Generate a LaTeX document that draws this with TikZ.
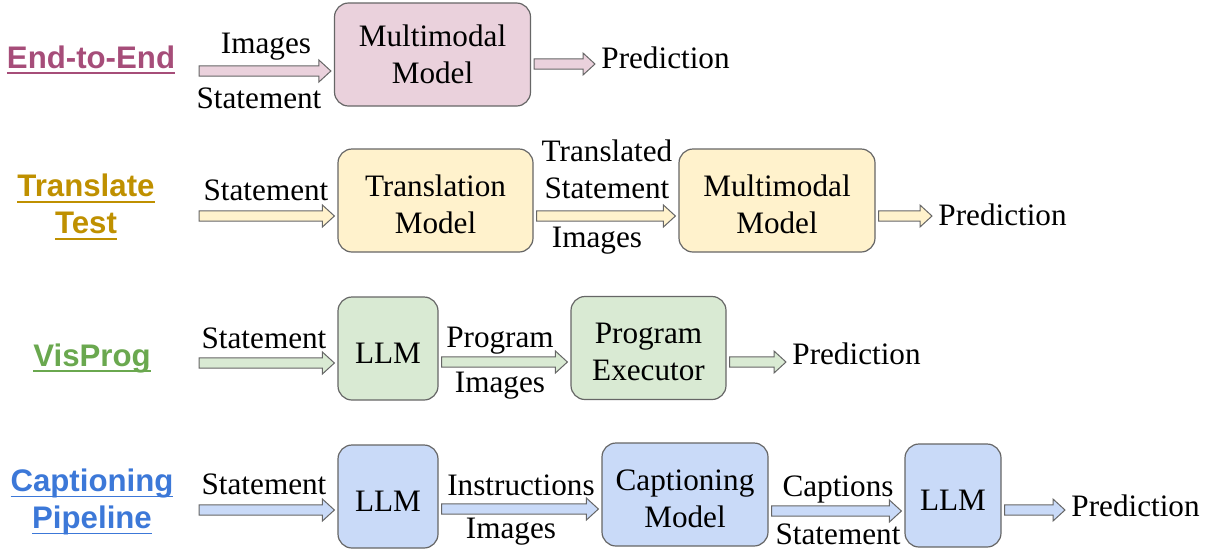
\documentclass[tikz,border=0pt]{standalone}
\usepackage{fontspec}
\setmainfont{Liberation Serif}
\newfontfamily\labelfont{Liberation Sans}
\usetikzlibrary{calc}
\definecolor{pinkfill}{HTML}{EAD1DC}
\definecolor{pinktext}{HTML}{A64D79}
\definecolor{yellowfill}{HTML}{FFF2CC}
\definecolor{yellowtext}{HTML}{BF9000}
\definecolor{greenfill}{HTML}{D9EAD3}
\definecolor{greentext}{HTML}{6AA84F}
\definecolor{bluefill}{HTML}{C9DAF8}
\definecolor{bluetext}{HTML}{3C78D8}
\definecolor{edgegray}{HTML}{666666}
\newcommand\figfont{\fontsize{15.6}{18.5}\selectfont}
\newcommand\rowul[1]{\setbox0\hbox{#1}\leavevmode\rlap{\rule[-2.9pt]{\wd0}{0.9pt}}\box0}
\tikzset{box/.style={draw=edgegray,line width=0.6pt,rounded corners=7pt,minimum height=51.5pt,align=center,inner sep=0pt,font=\figfont}}
\tikzset{lowtext/.style={text height=14.5pt}}
\tikzset{lowtwo/.style={text height=33pt}}
\tikzset{txt/.style={font=\figfont,inner sep=0pt,anchor=base}}
\tikzset{pred/.style={font=\figfont,inner sep=0pt,inner xsep=1.5pt,anchor=base west}}
\tikzset{rowlabel/.style={font=\labelfont\bfseries\figfont,align=center,inner sep=0pt}}
\tikzset{blockarrow/.style={draw=edgegray,line width=0.5pt,
    to path={let \p1=(\tikztostart), \p2=(\tikztotarget) in
      (\x1+1.5pt,\y1+2.6pt) -- (\x2-7.5pt,\y1+2.6pt) -- (\x2-7.5pt,\y1+5.5pt)
      -- (\x2-1.5pt,\y1) -- (\x2-7.5pt,\y1-5.5pt) -- (\x2-7.5pt,\y1-2.6pt)
      -- (\x1+1.5pt,\y1-2.6pt) -- cycle}}}

\begin{document}
\begin{tikzpicture}[x=0.5pt,y=-0.5pt]
    \useasboundingbox (0,0) rectangle (1210,548);

    % end-to-end
    \node[rowlabel, text=pinktext] (e2e) at (91,60) {\rowul{End-to-End}};
    \coordinate (in1) at (196,71);
    \node[box, fill=pinkfill, minimum width=98pt] (mm1) at (432.5,54.5) {Multimodal\\Model};
    \node[txt] (img1) at (266,53) {Images};
    \node[txt] (st1) at (259,108) {Statement};
    \node[pred] (pred1) at (598,68) {Prediction};
    \draw[blockarrow, fill=pinkfill] (in1) to (mm1.west);
    \draw[blockarrow, fill=pinkfill] ([yshift=-4.75pt]mm1.east) to (pred1.west);

    % translate test
    \node[rowlabel, text=yellowtext] (tt) at (86,207) {\rowul{Translate}\\\rowul{Test}};
    \coordinate (in2) at (196,216);
    \node[box, lowtwo, fill=yellowfill, minimum width=97.5pt] (tm2) at (435.5,200.5) {Translation\\Model};
    \node[box, lowtwo, fill=yellowfill, minimum width=98pt] (mm2) at (777,200.5) {Multimodal\\Model};
    \node[txt] (st2) at (266,200) {Statement};
    \node[font=\figfont, inner sep=0pt, align=center] (tst2) at (607,169) {Translated\\Statement};
    \node[txt] (img2) at (597,247) {Images};
    \node[pred] (pred2) at (935,225) {Prediction};
    \draw[blockarrow, fill=yellowfill] (in2) to (tm2.west);
    \draw[blockarrow, fill=yellowfill] ([yshift=-7.75pt]tm2.east) to (mm2.west);
    \draw[blockarrow, fill=yellowfill] ([yshift=-7.75pt]mm2.east) to (pred2.west);

    % visprog
    \node[rowlabel, text=greentext] (vp) at (92,358) {\rowul{VisProg}};
    \coordinate (in3) at (196,363);
    \node[box, lowtext, fill=greenfill, minimum width=50pt] (llm3) at (388,348.5) {LLM};
    \node[box, lowtwo, fill=greenfill, minimum width=77.5pt] (pe3) at (648.5,348) {Program\\Executor};
    \node[txt] (st3) at (264,348) {Statement};
    \node[txt] (prog3) at (500,347) {Program};
    \node[txt] (img3) at (500,392) {Images};
    \node[pred] (pred3) at (789,364) {Prediction};
    \draw[blockarrow, fill=greenfill] (in3) to (llm3.west);
    \draw[blockarrow, fill=greenfill] ([yshift=-6.75pt]llm3.east) to (pe3.west);
    \draw[blockarrow, fill=greenfill] ([yshift=-7pt]pe3.east) to (pred3.west);

    % captioning pipeline
    \node[rowlabel, text=bluetext] (cp) at (92,502) {\rowul{Captioning}\\\rowul{Pipeline}};
    \coordinate (in4) at (196,510);
    \node[box, lowtext, fill=bluefill, minimum width=50pt] (llm4) at (388,496.5) {LLM};
    \node[box, lowtwo, fill=bluefill, minimum width=83pt] (cm4) at (685,494.5) {Captioning\\Model};
    \node[box, lowtext, fill=bluefill, minimum width=48pt] (llm4b) at (953,495.5) {LLM};
    \node[txt] (st4) at (264,494) {Statement};
    \node[txt] (ins4) at (521,495) {Instructions};
    \node[txt] (img4) at (511,538) {Images};
    \node[txt] (cap4) at (838,496) {Captions};
    \node[txt] (st4b) at (838,544) {Statement};
    \node[pred] (pred4) at (1068,516) {Prediction};
    \draw[blockarrow, fill=bluefill] (in4) to (llm4.west);
    \draw[blockarrow, fill=bluefill] ([yshift=-6.25pt]llm4.east) to (cm4.west);
    \draw[blockarrow, fill=bluefill] ([yshift=-8.25pt]cm4.east) to (llm4b.west);
    \draw[blockarrow, fill=bluefill] ([yshift=-7.25pt]llm4b.east) to (pred4.west);
\end{tikzpicture}
\end{document}
